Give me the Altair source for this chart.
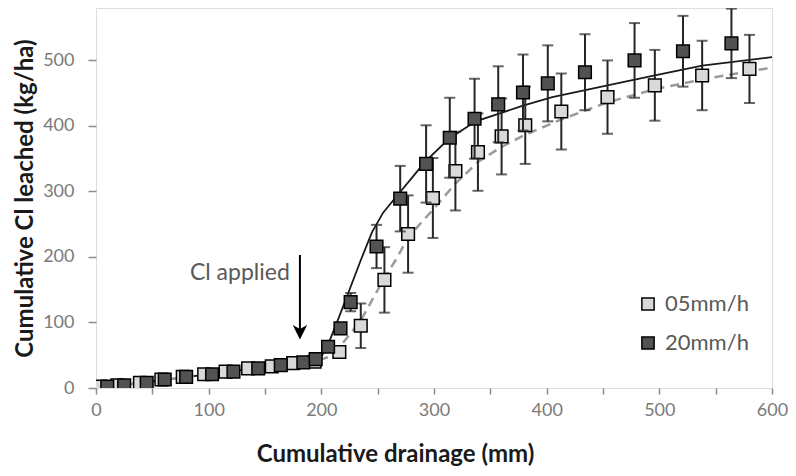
import altair as alt
import pandas as pd

# ---- measured data ----
x05 = [4, 19, 39, 58, 77, 96, 115, 135, 156, 175, 194, 216, 235, 256, 277, 299, 319, 339, 360, 381, 413, 454, 496, 538, 580]
y05 = [2, 4, 8, 13, 17, 21, 25, 30, 33, 38, 40, 55, 95, 165, 235, 290, 331, 360, 384, 401, 422, 444, 462, 477, 487]
e05 = [0, 0, 0, 0, 0, 0, 0, 0, 0, 0, 0, 8, 34, 50, 59, 61, 60, 59, 58, 59, 58, 56, 54, 53, 52]

x20 = [10, 25, 45, 61, 80, 103, 122, 144, 164, 184, 195, 206, 217, 226, 249, 270, 293, 314, 336, 357, 379, 401, 434, 478, 521, 564]
y20 = [2, 4, 8, 13, 17, 21, 25, 30, 35, 39, 44, 63, 91, 131, 216, 289, 342, 382, 411, 433, 451, 465, 482, 500, 514, 526]
e20 = [0, 0, 0, 0, 0, 0, 0, 0, 0, 0, 0, 0, 8, 14, 33, 50, 59, 61, 61, 58, 58, 58, 58, 57, 54, 53]

# fitted curves
cx20 = [0, 50, 100, 150, 200, 205, 215, 225, 235, 245, 255, 267, 280, 292, 313, 337, 379, 405, 454, 496, 538, 600]
cy20 = [0, 10, 21, 32, 48, 62, 105, 150, 195, 238, 268, 293, 320, 345, 380, 407, 431, 444, 462, 477, 492, 505]
cx05 = [0, 50, 100, 150, 200, 206, 217, 235, 256, 267, 277, 299, 319, 339, 359, 379, 413, 454, 496, 538, 600]
cy05 = [0, 10, 21, 32, 44, 47, 64, 103, 168, 198, 230, 272, 312, 345, 367, 385, 410, 436, 456, 471, 489]

series_names = ["05mm/h", "20mm/h"]
series_fill = ["#d9d9d9", "#525252"]

arrow_x = [181]
arrow_top = [203]
arrow_bottom = [90]
arrow_head = [85]
note_x = [172]
note_y = [175]
note_text = ["Cl applied"]

FONT = "Lato"

light = pd.DataFrame({"x": x05, "y": y05, "e": e05, "series": series_names[0]})
dark = pd.DataFrame({"x": x20, "y": y20, "e": e20, "series": series_names[1]})
for d in (light, dark):
    d["lo"] = d["y"] - d["e"]
    d["hi"] = d["y"] + d["e"]

curve20 = pd.DataFrame({"x": cx20, "y": cy20})
curve05 = pd.DataFrame({"x": cx05, "y": cy05})
arrow = pd.DataFrame({"x": arrow_x, "top": arrow_top, "bottom": arrow_bottom, "head": arrow_head})
note = pd.DataFrame({"x": note_x, "y": note_y, "t": note_text})

W = 676
xscale = alt.Scale(domain=[0, 600], nice=False, zero=False)
yscale = alt.Scale(domain=[0, 580], nice=False, zero=False)

xaxis = alt.Axis(
    values=list(range(0, 601, 25)),
    labelExpr="datum.value % 100 == 0 ? datum.label : ''",
    grid=False, domain=False, tickSize=6, tickWidth=1.5, tickColor="#8c8c8c",
    labelFont=FONT, labelFontSize=18, labelColor="#7a7a7a", labelPadding=7,
    labelFlush=False, labelOverlap=False,
    title="Cumulative drainage (mm)", titleFont=FONT, titleFontSize=24,
    titleFontWeight="bold", titleColor="#1a1a1a", titleY=66, titleX=299,
    titleAlign="center", titleBaseline="middle",
)
yaxis = alt.Axis(
    values=list(range(0, 576, 25)),
    labelExpr="datum.value % 100 == 0 ? datum.label : ''",
    grid=False, domain=False, tickSize=8, tickWidth=1.5, tickColor="#8c8c8c",
    labelFont=FONT, labelFontSize=18, labelColor="#7a7a7a", labelPadding=14,
    labelFlush=False, labelOverlap=False,
    title="Cumulative Cl leached (kg/ha)", titleFont=FONT, titleFontSize=24,
    titleFontWeight="bold", titleColor="#1a1a1a", titleX=-71, titleY=190,
    titleAlign="center", titleBaseline="middle", titleAngle=270,
)

base_x = alt.X("x:Q", scale=xscale, axis=xaxis)
base_y = alt.Y("y:Q", scale=yscale, axis=yaxis)

line20 = alt.Chart(curve20).mark_line(color="#1a1a1a", strokeWidth=1.8, clip=True).encode(
    x=base_x, y=base_y)
line05 = alt.Chart(curve05).mark_line(color="#9a9a9a", strokeWidth=2.5, strokeDash=[9, 6], clip=True).encode(
    x="x:Q", y="y:Q")

fill_enc = alt.Fill(
    "series:N",
    scale=alt.Scale(domain=series_names, range=series_fill),
    legend=alt.Legend(
        orient="none", legendX=541, legendY=285, title=None,
        symbolType="square", symbolSize=150, symbolStrokeColor="black",
        symbolStrokeWidth=1.5, symbolOpacity=1,
        labelFont=FONT, labelFontSize=22, labelColor="#595959",
        labelOffset=6, rowPadding=17, padding=0,
    ),
)


def series_layers(df):
    bars = df[df["e"] > 0]
    rule = alt.Chart(bars).mark_rule(color="#262626", strokeWidth=2, clip=True).encode(
        x="x:Q", y="lo:Q", y2="hi:Q")
    cap_hi = alt.Chart(bars).mark_tick(orient="horizontal", size=11, thickness=2,
                                       color="#262626", clip=True).encode(x="x:Q", y="hi:Q")
    cap_lo = alt.Chart(bars).mark_tick(orient="horizontal", size=11, thickness=2,
                                       color="#262626", clip=True).encode(x="x:Q", y="lo:Q")
    pts = alt.Chart(df).mark_square(size=160, stroke="black", strokeWidth=1.5, opacity=1,
                                    clip=True).encode(x="x:Q", y="y:Q", fill=fill_enc)
    return [rule, cap_hi, cap_lo, pts]


shaft = alt.Chart(arrow).mark_rule(color="black", strokeWidth=2).encode(
    x="x:Q", y="top:Q", y2="bottom:Q")
head = alt.Chart(arrow).mark_point(
    shape="M-1,-1L0,1L1,-1L0,-0.45Z", filled=True, color="black", size=210, opacity=1
).encode(x="x:Q", y="head:Q")
label = alt.Chart(note).mark_text(
    font=FONT, fontSize=23, color="#595959", align="right", baseline="middle"
).encode(x="x:Q", y="y:Q", text="t:N")

chart = alt.layer(
    line20, line05, *series_layers(light), *series_layers(dark), shaft, head, label
).properties(
    width=W, height=380, autosize="none",
    padding={"left": 88, "top": 0, "right": 16, "bottom": 80},
).configure_view(stroke="#8c8c8c", strokeWidth=2).configure(background="white")

chart.save("out.html", embed_options={"renderer": "svg", "actions": False})
